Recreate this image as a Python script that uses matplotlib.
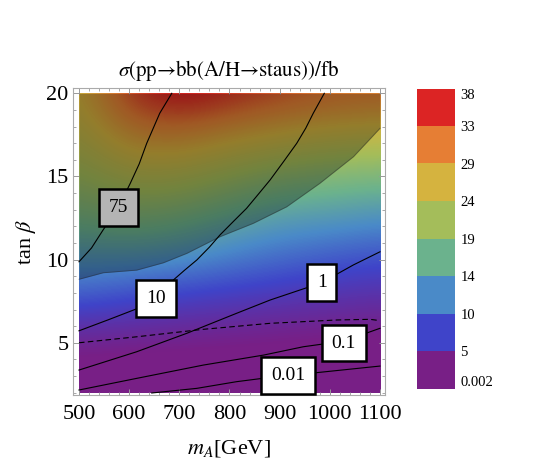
import matplotlib
matplotlib.use("Agg")
import matplotlib.pyplot as plt
import numpy as np
from matplotlib.colors import LinearSegmentedColormap, ListedColormap
from matplotlib.patches import Rectangle
from matplotlib.ticker import MultipleLocator

plt.rcParams['font.family'] = ['Liberation Serif', 'STIXGeneral', 'DejaVu Serif']
plt.rcParams['mathtext.fontset'] = 'stix'

# grid of sigma values (fb)
mA_grid = [500, 600, 700, 800, 900, 1000, 1100]
tb_grid = [2, 4, 6, 8, 10, 12, 14, 16, 18, 20]
sigma = [
    [0.8, 0.8, 0.7, 0.7, 0.6, 0.6, 0.5],
    [2.2, 2.0, 1.9, 1.8, 1.6, 1.5, 1.4],
    [4.8, 4.4, 4.0, 3.7, 3.4, 3.1, 2.9],
    [9.5, 8.3, 7.5, 6.8, 6.2, 5.6, 5.1],
    [13.0, 13.0, 12.3, 11.0, 9.8, 8.8, 8.0],
    [16.5, 17.5, 16.5, 14.5, 13.0, 12.5, 11.6],
    [19.5, 21.5, 21.0, 19.0, 17.0, 16.5, 15.7],
    [22.0, 25.5, 25.5, 23.5, 22.0, 21.0, 20.5],
    [24.0, 30.0, 31.0, 29.0, 27.5, 26.5, 26.0],
    [25.5, 34.0, 37.0, 35.0, 33.0, 31.5, 31.0],
]

# shaded (excluded) region boundary
bnd_mA = [500, 548, 615, 668, 715, 781, 847, 914, 980, 1047, 1100]
bnd_tb = [8.82, 9.21, 9.37, 9.81, 10.38, 11.38, 12.18, 13.18, 14.59, 16.19, 17.9]

# contour lines
c75_mA = [500, 525, 548, 578, 602, 620, 635, 661, 685]
c75_tb = [9.87, 10.7, 11.78, 13.12, 14.57, 15.75, 16.99, 18.8, 20.0]
c10_mA = [500, 560, 620, 653, 688, 710, 735, 760, 781, 808, 834, 858, 881, 908, 934, 952, 967, 989]
c10_tb = [5.72, 6.4, 7.1, 7.66, 8.77, 9.35, 9.98, 10.75, 11.48, 12.3, 13.08, 13.95, 14.79, 15.9, 16.99, 17.9, 18.8, 20.0]
c1_mA = [500, 615, 715, 814, 881, 960, 984, 1047, 1100]
c1_tb = [3.36, 4.46, 5.57, 6.77, 7.57, 8.37, 8.62, 9.68, 10.47]
c01_mA = [500, 615, 748, 868, 947, 1028, 1100]
c01_tb = [2.16, 2.86, 3.66, 4.26, 4.76, 5.1, 5.87]
c001_mA = [645, 690, 735, 814, 917, 960, 1100]
c001_tb = [1.98, 2.12, 2.26, 2.66, 3.06, 3.16, 3.6]
dash_mA = [500, 615, 748, 881, 1014, 1080, 1100]
dash_tb = [5.0, 5.36, 5.81, 6.17, 6.37, 6.41, 6.33]

labels = ["75", "10", "1", "0.1", "0.01"]
lab_mA = [578.5, 653.5, 984, 1028, 916.5]
lab_tb = [13.12, 7.66, 8.62, 4.98, 3.03]
lab_fc = ['#b4b4b4', 'white', 'white', 'white', 'white']

# legend bins
cb_ticks = ["0.002", "5", "10", "14", "19", "24", "29", "33", "38"]
cb_colors = ['#781f86', '#3f44c9', '#4a8ac8', '#6bb28d', '#a4bd5a',
             '#d5b33f', '#e67e34', '#dc2424']
cb_mid = [2.5, 7.5, 12, 16.5, 21.5, 26.5, 31, 35.5]
vmax = 38.0

stops = [(0.0, cb_colors[0])] + [(m / vmax, c) for m, c in zip(cb_mid, cb_colors)] + [(1.0, cb_colors[-1])]
cmap = LinearSegmentedColormap.from_list('rb', stops)

fig = plt.figure(figsize=(5.45, 4.74), dpi=100)
ax = fig.add_axes([72.7 / 545, 1 - 395 / 474, (385 - 72.7) / 545, (395 - 88.3) / 474])

dx = (mA_grid[1] - mA_grid[0]) / 2
dy = (tb_grid[1] - tb_grid[0]) / 2
im = ax.imshow(np.array(sigma), origin='lower', aspect='auto', cmap=cmap,
               vmin=0, vmax=vmax, interpolation='bicubic',
               extent=(mA_grid[0] - dx, mA_grid[-1] + dx, tb_grid[0] - dy, tb_grid[-1] + dy))
im.set_clip_path(Rectangle((500, 2), 600, 18, transform=ax.transData))

ax.fill_between(bnd_mA, bnd_tb, 20, color='black', alpha=0.3, lw=0, zorder=2)
ax.plot(bnd_mA, bnd_tb, color='#222222', lw=0.6, alpha=0.4, zorder=2)

for xs, ys in [(c75_mA, c75_tb), (c10_mA, c10_tb), (c1_mA, c1_tb),
               (c01_mA, c01_tb), (c001_mA, c001_tb)]:
    ax.plot(xs, ys, color='black', lw=0.8, zorder=3)
ax.plot(dash_mA, dash_tb, color='black', lw=0.8, dashes=(5, 3), zorder=3)

for t, x, y, fc in zip(labels, lab_mA, lab_tb, lab_fc):
    ax.text(x, y, t, ha='center', va='center', fontsize=14, zorder=5,
            bbox=dict(boxstyle='square,pad=0.5', fc=fc, ec='black', lw=1.8))

ax.set_xlim(487.5, 1110)
ax.set_ylim(1.86, 20.3)
ax.xaxis.set_major_locator(MultipleLocator(100))
ax.xaxis.set_minor_locator(MultipleLocator(20))
ax.yaxis.set_major_locator(MultipleLocator(5))
ax.yaxis.set_minor_locator(MultipleLocator(1))
ax.tick_params(which='both', direction='in', top=True, right=True,
               color='#999999', labelsize=16)
ax.tick_params(which='major', length=4, width=0.7)
ax.tick_params(which='minor', length=2, width=0.6)
ax.tick_params(axis='x', pad=7)
ax.tick_params(axis='y', pad=3)
for s in ax.spines.values():
    s.set_color('#aaaaaa')
    s.set_linewidth(0.8)

ax.set_xlabel('$m_A$[GeV]', fontsize=16, labelpad=10)
ax.set_ylabel(r'tan $\beta$', fontsize=16, labelpad=6)
ax.set_title(r'$\sigma$(pp→bb(A/H→staus))/fb', fontsize=15, pad=9,
             family=['STIXGeneral', 'Liberation Serif'])

# legend bar
cax = fig.add_axes([417 / 545, 1 - 389 / 474, 38 / 545, 300 / 474])
cax.imshow(np.arange(len(cb_colors)).reshape(-1, 1), origin='lower', aspect='auto',
           cmap=ListedColormap(cb_colors), extent=(0, 1, 0, len(cb_colors)),
           interpolation='nearest')
cax.set_xticks([])
cax.yaxis.tick_right()
cax.set_yticks(range(len(cb_ticks)))
cax.set_yticklabels(cb_ticks, fontsize=10.5)
cax.tick_params(axis='y', length=0, pad=4)
tl = cax.get_yticklabels()
tl[0].set_va('bottom')
tl[-1].set_va('top')
for s in cax.spines.values():
    s.set_visible(False)

fig.savefig('out.png', dpi=100)
